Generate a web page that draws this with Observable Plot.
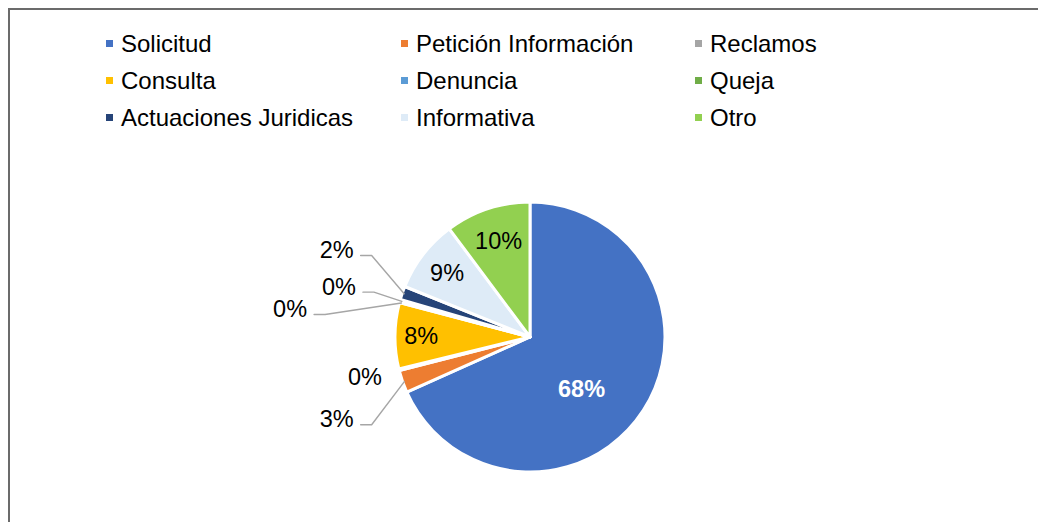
<!DOCTYPE html>
<html><head><meta charset="utf-8">
<script src="https://cdn.jsdelivr.net/npm/d3@7"></script>
<script src="https://cdn.jsdelivr.net/npm/@observablehq/plot@0.6"></script>
<style>
body{margin:0;background:#fff;font-family:"Liberation Sans",Arial,sans-serif;}
#wrap{position:relative;width:1038px;height:522px;overflow:hidden;background:#fff;}
#frame{position:absolute;left:8px;top:8px;width:1100px;height:600px;border-left:2px solid #6b6b6b;border-top:2px solid #6b6b6b;}
#legend{position:absolute;left:106px;top:25px;display:grid;grid-template-columns:295px 294px 300px;}
.item{display:flex;align-items:center;height:37px;font-size:24px;color:#000;white-space:nowrap;}
.sw{width:7px;height:7px;margin-right:8px;flex:none;}
#chart{position:absolute;left:0;top:140px;}
</style>
</head><body>
<div id="wrap"><div id="frame"></div><div id="legend"></div><div id="chart"></div></div>
<script>
// ---- data ----
const categories = ["Solicitud","Petición Información","Reclamos","Consulta","Denuncia","Queja","Actuaciones Juridicas","Informativa","Otro"];
const shares = [68.3, 2.7, 0.2, 7.9, 0.1, 0.3, 1.6, 8.7, 10.2];
const colors = ["#4472C4","#ED7D31","#A5A5A5","#FFC000","#5B9BD5","#70AD47","#264478","#DEEBF7","#92D050"];
const insideLabels = ["Solicitud","Consulta","Informativa","Otro"];

// ---- layout ----
const R = 135; // pie radius in px
const u = 1 / R; // one pixel in unit coords
// outside label anchors (right end of text), unit coords relative to center, y up
const outsideLayout = {
  "Petición Información": {x: -1.31, y: -0.609, leader: true},
  "Reclamos": {x: -1.10, y: -0.294, leader: false},
  "Denuncia": {x: -1.655, y: 0.207, leader: true},
  "Queja": {x: -1.293, y: 0.373, leader: true},
  "Actuaciones Juridicas": {x: -1.31, y: 0.644, leader: true}
};

const rows = categories.map((c, i) => ({category: c, value: shares[i], color: colors[i]}));
const total = d3.sum(shares);
const arcs = d3.pie().sort(null).value(d => d.value)(rows);
const fmt = d3.format(".0%");

// ---- legend ----
const legend = d3.select("#legend");
rows.forEach(r => {
  const it = legend.append("div").attr("class", "item");
  it.append("span").attr("class", "sw").style("background", r.color);
  it.append("span").text(r.category);
});

// ---- labels ----
const labels = [];
const leaders = [];
arcs.forEach(a => {
  const name = a.data.category;
  const mid = (a.startAngle + a.endAngle) / 2;
  const text = fmt(a.data.value / total);
  if (insideLabels.includes(name)) {
    let ang = mid, rf = 0.78;
    if (name === "Solicitud") { ang = mid + 0.22; rf = 0.54; }
    if (name === "Otro") rf = 0.75;
    if (name === "Consulta") rf = 0.81;
    labels.push({x: Math.sin(ang) * rf, y: Math.cos(ang) * rf, text, anchor: "middle",
      fill: name === "Solicitud" ? "#fff" : "#000", weight: name === "Solicitud" ? "bold" : "normal"});
  } else {
    const L = outsideLayout[name];
    labels.push({x: L.x, y: L.y, text, anchor: "end", fill: "#000", weight: "normal"});
    if (L.leader) {
      const ly = L.y - 5 * u;
      leaders.push({id: name, x: L.x + 7 * u, y: ly});
      leaders.push({id: name, x: L.x + 18 * u, y: ly});
      leaders.push({id: name, x: Math.sin(mid) * 0.99, y: Math.cos(mid) * 0.99});
    }
  }
});

// ---- pie slices via custom render ----
function pieMark(index, scales, values, dimensions) {
  const cx = scales.x(0), cy = scales.y(0);
  const r = scales.x(1) - scales.x(0);
  const arc = d3.arc().innerRadius(0).outerRadius(r);
  const g = d3.create("svg:g").attr("transform", `translate(${cx},${cy})`);
  g.selectAll("path").data(arcs).join("path")
    .attr("d", arc)
    .attr("fill", d => d.data.color)
    .attr("stroke", "#fff")
    .attr("stroke-width", 3)
    .attr("stroke-linejoin", "round");
  return g.node();
}

const W = 1038, H = 382, cx = 530, cy = 197;
const plot = Plot.plot({
  width: W, height: H,
  marginLeft: cx - R, marginRight: W - cx - R,
  marginTop: cy - R, marginBottom: H - cy - R,
  x: {domain: [-1, 1], axis: null},
  y: {domain: [-1, 1], axis: null},
  style: {fontFamily: "'Liberation Sans', Arial, sans-serif", overflow: "visible", background: "transparent"},
  marks: [
    pieMark,
    Plot.line(leaders, {x: "x", y: "y", z: "id", stroke: "#a6a6a6", strokeWidth: 1.4, curve: "linear"}),
    Plot.text(labels.filter(d => d.anchor === "middle" && d.weight === "bold"), {x: "x", y: "y", text: "text", fill: "fill", fontSize: 23.5, fontWeight: "bold", textAnchor: "middle"}),
    Plot.text(labels.filter(d => d.anchor === "middle" && d.weight !== "bold"), {x: "x", y: "y", text: "text", fill: "fill", fontSize: 23.5, textAnchor: "middle"}),
    Plot.text(labels.filter(d => d.anchor === "end"), {x: "x", y: "y", text: "text", fill: "fill", fontSize: 23.5, textAnchor: "end"})
  ]
});
document.getElementById("chart").appendChild(plot);
</script>
</body></html>
